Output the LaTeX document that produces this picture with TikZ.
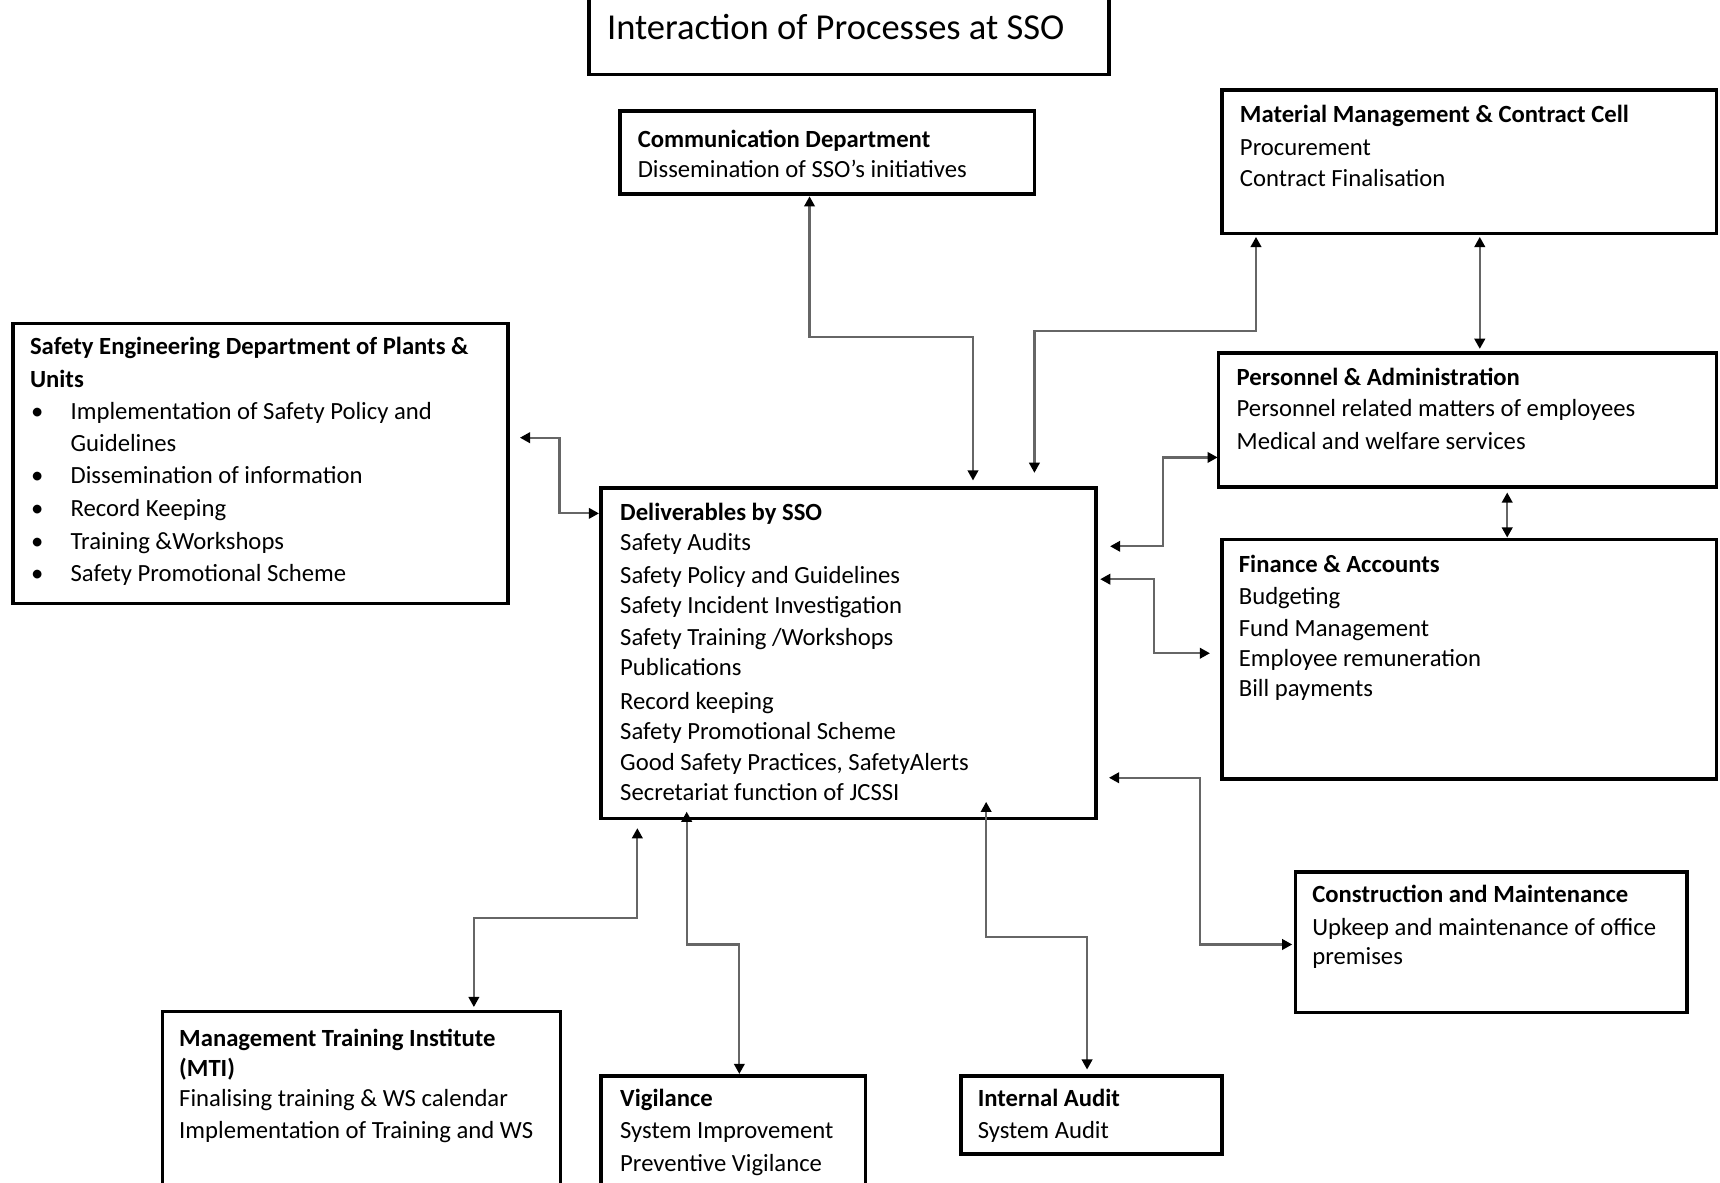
\documentclass[tikz,border=0pt]{standalone}
\usepackage{fontspec}
\setmainfont{Carlito}
\usetikzlibrary{arrows.meta,calc}
\begin{document}
\begin{tikzpicture}[x=0.5pt,y=-0.5pt,
  box/.style={draw=black, line width=1.6pt, inner sep=0pt, outer sep=0pt, anchor=north west},
  txt/.style={anchor=base west, inner sep=0pt, font=\fontsize{11.25}{13}\selectfont},
  hd/.style={anchor=base west, inner sep=0pt, font=\fontsize{11.25}{13}\selectfont\bfseries},
  conn/.style={draw=black!60, line width=1pt, {Triangle[length=4.6pt,width=4.8pt,color=black]}-{Triangle[length=4.6pt,width=4.8pt,color=black]}},
]
\useasboundingbox (0,0) rectangle (1568,1078);
\clip (0,0) rectangle (1568,1078);

% ---------- boxes ----------
\node[box, minimum width=237pt,   minimum height=39pt]    (title)  at (537,-10) {};
\node[box, minimum width=189pt,   minimum height=38pt]    (comm)   at (565,101) {};
\node[box, minimum width=225.5pt, minimum height=65.5pt]  (mat)    at (1114,82) {};
\node[box, minimum width=227pt,   minimum height=61pt]    (pers)   at (1111,322) {};
\node[box, minimum width=225.5pt, minimum height=109pt]   (fin)    at (1114,492) {};
\node[box, minimum width=178.5pt, minimum height=64pt]    (constr) at (1181,795) {};
\node[box, minimum width=225.5pt, minimum height=127.5pt] (seng)   at (12,295) {};
\node[box, minimum width=225.5pt, minimum height=150.5pt] (deliv)  at (548,445) {};
\node[box, minimum width=181.5pt, minimum height=100pt]   (mti)    at (148,922) {};
\node[box, minimum width=120.5pt, minimum height=75pt]    (vig)    at (548,981) {};
\node[box, minimum width=119pt,   minimum height=35.5pt]  (iaudit) at (876,981) {};

% ---------- texts ----------
\node[anchor=base west, inner sep=0pt, font=\fontsize{16.65}{20}\selectfont] (title-t) at (553,35.8) {Interaction of Processes at SSO};

\node[hd]  (comm-1) at (581,134) {Communication Department};
\node[txt] (comm-2) at (581,162) {Dissemination of SSO’s initiatives};

\node[hd]  (mat-1) at (1130,111.8) {Material Management \& Contract Cell};
\node[txt] (mat-2) at (1130,141.3) {Procurement};
\node[txt] (mat-3) at (1130,170)   {Contract Finalisation};

\node[hd]  (pers-1) at (1127,351)   {Personnel \& Administration};
\node[txt] (pers-2) at (1127,379.8) {Personnel related matters of employees};
\node[txt] (pers-3) at (1127,409.5) {Medical and welfare services};

\node[hd]  (fin-1) at (1129,521.7) {Finance \& Accounts};
\node[txt] (fin-2) at (1129,551.5) {Budgeting};
\node[txt] (fin-3) at (1129,580.4) {Fund Management};
\node[txt] (fin-4) at (1129,607.7) {Employee remuneration};
\node[txt] (fin-5) at (1129,635)   {Bill payments};

\node[hd]  (constr-1) at (1196,823)   {Construction and Maintenance};
\node[txt] (constr-2) at (1196,852.4) {Upkeep and maintenance of office};
\node[txt] (constr-3) at (1196,879.7) {premises};

\node[hd]  (seng-1) at (27,322.8) {Safety Engineering Department of Plants \&};
\node[hd]  (seng-2) at (27,353.4) {Units};
\node[txt] (seng-b1) at (28,382)   {•};
\node[txt] (seng-3)  at (64,382)   {Implementation of Safety Policy and};
\node[txt] (seng-4)  at (64,411.7) {Guidelines};
\node[txt] (seng-b2) at (28,440.4) {•};
\node[txt] (seng-5)  at (64,440.4) {Dissemination of information};
\node[txt] (seng-b3) at (28,471)   {•};
\node[txt] (seng-6)  at (64,471)   {Record Keeping};
\node[txt] (seng-b4) at (28,500.5) {•};
\node[txt] (seng-7)  at (64,500.5) {Training \&Workshops};
\node[txt] (seng-b5) at (28,530)   {•};
\node[txt] (seng-8)  at (64,530)   {Safety Promotional Scheme};

\node[hd]  (deliv-1)  at (565,474.6) {Deliverables by SSO};
\node[txt] (deliv-2)  at (565,501.4) {Safety Audits};
\node[txt] (deliv-3)  at (565,531.8) {Safety Policy and Guidelines};
\node[txt] (deliv-4)  at (565,559.7) {Safety Incident Investigation};
\node[txt] (deliv-5)  at (565,588)   {Safety Training /Workshops};
\node[txt] (deliv-6)  at (565,616)   {Publications};
\node[txt] (deliv-7)  at (565,646.6) {Record keeping};
\node[txt] (deliv-8)  at (565,674)   {Safety Promotional Scheme};
\node[txt] (deliv-9)  at (565,702.5) {Good Safety Practices, SafetyAlerts};
\node[txt] (deliv-10) at (565,730)   {Secretariat function of JCSSI};

\node[hd]  (mti-1) at (163,954)    {Management Training Institute};
\node[hd]  (mti-2) at (163,981.5)  {(MTI)};
\node[txt] (mti-3) at (163,1009)   {Finalising training \& WS calendar};
\node[txt] (mti-4) at (163,1037.5) {Implementation of Training and WS};

\node[hd]  (vig-1) at (565,1009)   {Vigilance};
\node[txt] (vig-2) at (565,1037.5) {System Improvement};
\node[txt] (vig-3) at (565,1068)   {Preventive Vigilance};

\node[hd]  (iaudit-1) at (891,1009)   {Internal Audit};
\node[txt] (iaudit-2) at (891,1037.5) {System Audit};

% ---------- connectors ----------
% communication <-> deliverables
\draw[conn] ($(comm.south west)+(173,2)$) |- ($(deliv.north west)+(339,-138)$) -- ($(deliv.north west)+(339,-7)$);
% deliverables <-> material management
\draw[conn] ($(deliv.north west)+(395,-14)$) |- ($(mat.south west)+(31,89)$) -- ($(mat.south west)+(31,3)$);
% material management <-> personnel
\draw[conn] ($(mat.south west)+(235,3)$) -- ($(pers.north west)+(238,-4)$);
% personnel <-> finance
\draw[conn] ($(pers.south west)+(263,5)$) -- ($(fin.north west)+(260,-2)$);
% deliverables <-> personnel
\draw[conn] ($(deliv.north east)+(13,53)$) -| ($(pers.north west)+(-51,95)$) -- ($(pers.north west)+(-1,95)$);
% deliverables <-> finance
\draw[conn] ($(deliv.north east)+(4,83)$) -| ($(fin.north west)+(-62,103.5)$) -- ($(fin.north west)+(-11,103.5)$);
% deliverables <-> construction
\draw[conn] ($(deliv.north east)+(12,264)$) -| ($(constr.north west)+(-87,66)$) -- ($(constr.north west)+(-3,66)$);
% safety engineering <-> deliverables
\draw[conn] ($(seng.north east)+(11,104)$) -| ($(deliv.north west)+(-38,23)$) -- ($(deliv.north west)+(-2,23)$);
% deliverables <-> MTI
\draw[conn] ($(deliv.south west)+(33,9)$) |- ($(mti.north west)+(284,-85)$) -- ($(mti.north west)+(284,-4)$);
% deliverables <-> vigilance
\draw[conn] ($(deliv.south west)+(78,-6)$) |- ($(vig.north west)+(126,-120)$) -- ($(vig.north west)+(126,-2)$);
% deliverables <-> internal audit
\draw[conn] ($(deliv.south west)+(351,-15)$) |- ($(iaudit.north west)+(115,-127)$) -- ($(iaudit.north west)+(115,-6)$);
\end{tikzpicture}
\end{document}
